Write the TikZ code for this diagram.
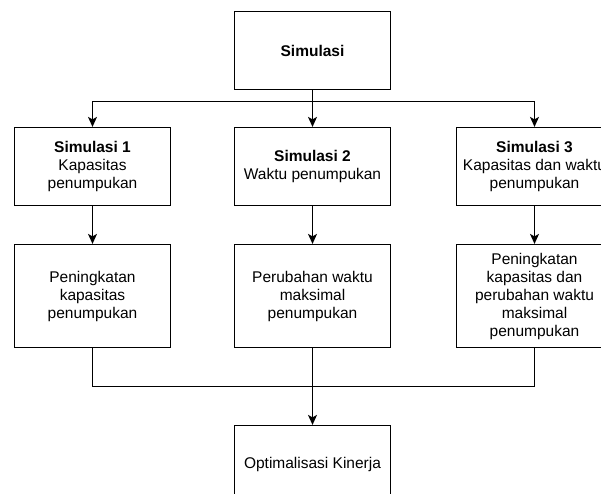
\documentclass[tikz,border=0pt]{standalone}
\usepackage{fontspec}
\setmainfont{Liberation Sans}
\usetikzlibrary{arrows.meta}

\tikzset{
  box/.style={draw, line width=1.2pt, minimum width=156pt, inner sep=0pt,
    align=center, font=\fontsize{15.5}{18}\selectfont},
  lowbox/.style={box, minimum height=103pt},
  highbox/.style={box, minimum height=78pt},
  arr/.style={line width=1.2pt, -{Stealth[length=10pt,width=9pt,inset=2.5pt]}},
  bus/.style={line width=1.2pt}
}

\begin{document}
\begin{tikzpicture}[x=1pt,y=-1pt]

	\clip (0,0) rectangle (601,494);

	\node[highbox] (sim) at (312.5,50.5) {\textbf{Simulasi}};

	\node[highbox] (sim1) at (92.5,166.5) {\textbf{Simulasi 1}\\Kapasitas\\penumpukan};
	\node[highbox] (sim2) at (312.5,166.5) {\textbf{Simulasi 2}\\Waktu penumpukan};
	\node[highbox] (sim3) at (534.5,166.5) {\textbf{Simulasi 3}\\Kapasitas dan waktu\\penumpukan};

	\node[lowbox] (hasil1) at (92.5,296) {Peningkatan\\kapasitas\\penumpukan};
	\node[lowbox] (hasil2) at (312.5,296) {Perubahan waktu\\maksimal\\penumpukan};
	\node[lowbox] (hasil3) at (534.5,296) {Peningkatan\\kapasitas dan\\perubahan waktu\\maksimal\\penumpukan};

	\node[highbox] (optim) at (312.5,464.5) {Optimalisasi Kinerja};

	\coordinate (split) at (312.5,101.5);
	\coordinate (join) at (312.5,386.5);

	\draw[bus] (sim.south) -- (split);
	\draw[arr] (split) -| (sim1.north); \draw[arr] (split) --
        (sim2.north); \draw[arr] (split) -| (sim3.north);

	\draw[arr] (sim1) -- (hasil1); \draw[arr] (sim2) -- (hasil2);
        \draw[arr] (sim3) -- (hasil3);

	\draw[bus] (hasil1.south) |- (join); \draw[bus] (hasil3.south)
        |- (join);
	\draw[arr] (hasil2.south) -- (optim.north);

\end{tikzpicture}
\end{document}
